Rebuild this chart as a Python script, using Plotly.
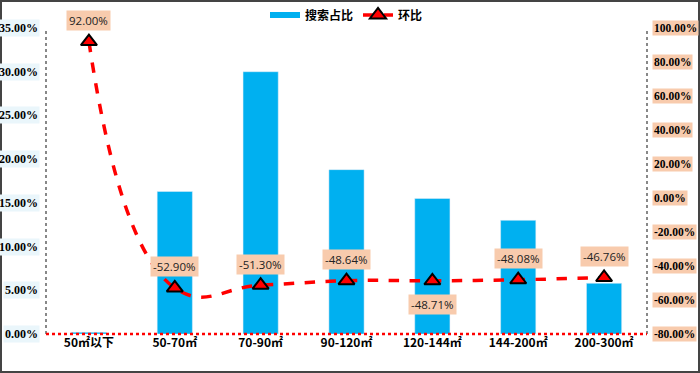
import plotly.graph_objects as go

categories = ["50㎡以下", "50-70㎡", "70-90㎡", "90-120㎡", "120-144㎡", "144-200㎡", "200-300㎡"]
search_share = [0.2, 16.3, 30.0, 18.8, 15.5, 13.0, 5.8]
mom = [92.00, -52.90, -51.30, -48.64, -48.71, -48.08, -46.76]
mom_labels = ["92.00%", "-52.90%", "-51.30%", "-48.64%", "-48.71%", "-48.08%", "-46.76%"]
left_ticks = [0, 5, 10, 15, 20, 25, 30, 35]
right_ticks = [-80, -60, -40, -20, 0, 20, 40, 60, 80, 100]

W, H = 700, 373
L, R, T, B = 46, 53, 28, 39
pw, ph = W - L - R, H - T - B

fig = go.Figure()
fig.add_trace(go.Bar(x=categories, y=search_share, marker_color="#00B0F0", width=0.41,
                     name="搜索占比", showlegend=False, yaxis="y"))
fig.add_trace(go.Scatter(x=[None], y=[None], mode="lines", name="搜索占比",
                         line=dict(color="#00B0F0", width=6)))
fig.add_trace(go.Scatter(x=categories, y=mom, yaxis="y2", name="环比", mode="lines+markers",
                         line=dict(color="#FF0000", width=3.5, dash="dash", shape="spline", smoothing=1.3),
                         marker=dict(symbol="triangle-up", size=14, color="#FF0000",
                                     line=dict(color="black", width=2))))

ann = []
for i, (c, v, t) in enumerate(zip(categories, mom, mom_labels)):
    below = (t == "-48.71%")
    ann.append(dict(x=c, y=v, xref="x", yref="y2", text=t, showarrow=False,
                    yshift=-24 if below else 21, bgcolor="#F8CBAD",
                    font=dict(family="Open Sans", size=11.5, color="#222"), borderpad=2))
for v in left_ticks:
    ann.append(dict(x=0, xref="paper", y=v, yref="y", text=f"{v:.2f}%", showarrow=False,
                    xanchor="right", xshift=-6, bgcolor="#EAF6FB",
                    font=dict(family="Liberation Serif", size=12, color="black", weight="bold")))
for v in right_ticks:
    ann.append(dict(x=1, xref="paper", y=v, yref="y2", text=f"{v:.2f}%", showarrow=False,
                    xanchor="left", xshift=5, bgcolor="#F8CBAD",
                    font=dict(family="Liberation Serif", size=11.5, color="black", weight="bold")))

shapes = [
    dict(type="line", xref="paper", yref="paper", x0=0, x1=0, y0=0, y1=1,
         line=dict(color="#888888", width=2, dash="dot")),
    dict(type="line", xref="paper", yref="paper", x0=1, x1=1, y0=0, y1=1,
         line=dict(color="#888888", width=2, dash="dot")),
    dict(type="line", xref="paper", yref="paper", x0=0, x1=1, y0=0, y1=0,
         line=dict(color="#FF0000", width=2.5, dash="dot")),
    dict(type="rect", xref="paper", yref="paper",
         x0=(-L + 1) / pw, x1=(pw + R - 1) / pw, y0=(-B + 1) / ph, y1=(ph + T - 1) / ph,
         line=dict(color="#444444", width=2)),
]

fig.update_layout(
    width=W, height=H, margin=dict(l=L, r=R, t=T, b=B, autoexpand=False),
    paper_bgcolor="white", plot_bgcolor="white",
    xaxis=dict(type="category", showgrid=False, showline=False, ticks="",
               tickfont=dict(family="Noto Sans CJK SC", size=12, color="black", weight="bold")),
    yaxis=dict(range=[0, 35], showgrid=False, zeroline=False, showticklabels=False, showline=False),
    yaxis2=dict(range=[-80, 100], overlaying="y", side="right", showgrid=False, zeroline=False,
                showticklabels=False, showline=False),
    legend=dict(orientation="h", x=0.5, xanchor="center", y=(ph + 13) / ph, yanchor="middle",
                font=dict(family="Noto Sans CJK SC", size=12, color="black", weight="bold"),
                bgcolor="rgba(0,0,0,0)"),
    annotations=ann, shapes=shapes, bargap=0.59,
)
fig.write_html("out.html", config={"displayModeBar": False},
               post_script="document.body.style.margin='0';document.body.style.overflow='hidden';")
